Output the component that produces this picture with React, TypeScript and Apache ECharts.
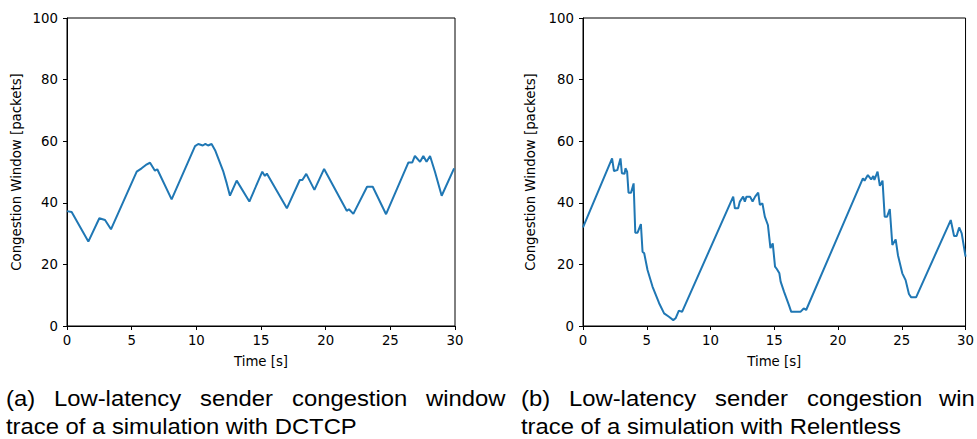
import React, { useEffect, useRef } from "react";
import * as echarts from "echarts";

const xTicks = [0, 5, 10, 15, 20, 25, 30];
const yTicks = [0, 20, 40, 60, 80, 100];

const dctcpTime = [0, 0.36, 1.65, 2.5, 2.94, 3.4, 5.39, 5.77, 6.1, 6.42, 6.8, 6.98, 8.09, 9.9, 10.15, 10.5, 10.7, 10.9, 11.18, 11.45, 12.09, 12.35, 12.6, 13.12, 14.1, 15.1, 15.3, 15.45, 17.0, 18.0, 18.2, 18.5, 19.13, 19.88, 21.63, 21.8, 22.14, 23.2, 23.64, 24.67, 26.4, 26.7, 26.9, 27.3, 27.55, 27.8, 28.07, 28.45, 28.97, 29.93];
const dctcpCwnd = [37.3, 37, 27.4, 35, 34.4, 31.4, 50.1, 51.2, 52.3, 53, 50.4, 50.9, 41.1, 58.4, 59.1, 58.6, 59.1, 58.6, 59.1, 57.1, 50.1, 46.3, 42.3, 47.2, 40.4, 50.1, 48.7, 49.5, 38.2, 47.4, 47.4, 49.4, 44.2, 51, 37.4, 37.9, 36.4, 45.2, 45.2, 36.3, 53.1, 53.1, 55.2, 53.3, 55.2, 53.3, 55.2, 50.1, 42.3, 51.2];

const relTime = [0, 2.28, 2.43, 2.69, 2.94, 3.05, 3.26, 3.33, 3.46, 3.57, 3.77, 3.97, 4.1, 4.28, 4.54, 4.67, 4.8, 5.06, 5.45, 5.97, 6.36, 6.74, 7.08, 7.26, 7.52, 7.77, 11.78, 11.91, 12.17, 12.3, 12.56, 12.69, 12.82, 13.1, 13.3, 13.5, 13.74, 13.87, 14.07, 14.26, 14.5, 14.7, 14.88, 15.06, 15.2, 15.4, 15.5, 15.77, 16.15, 16.33, 17.05, 17.31, 17.5, 21.95, 22.08, 22.34, 22.6, 22.77, 22.85, 23.1, 23.28, 23.49, 23.66, 23.85, 24.06, 24.26, 24.52, 24.7, 25.04, 25.3, 25.56, 25.74, 26.12, 28.84, 29.1, 29.3, 29.5, 29.7, 30];
const relCwnd = [32, 54.4, 50.3, 50.6, 54.4, 49.6, 49.4, 51.2, 50.1, 43.3, 43.3, 46.3, 30.3, 30.3, 33.1, 24.1, 23.6, 18.2, 12.8, 7.4, 4.1, 3.0, 1.9, 2.5, 5, 4.6, 42, 38.2, 38.2, 40.4, 42, 40.4, 42, 42, 40.4, 42, 43.3, 39.3, 39.8, 35.5, 32.8, 25.3, 26.8, 19.3, 18.5, 17.1, 14.4, 11.1, 6.8, 4.6, 4.6, 5.7, 5.2, 47.9, 47.2, 49, 47.6, 48.7, 47.4, 50.1, 45.5, 47.2, 35.5, 35.5, 38, 26.3, 28.1, 23, 17.1, 14.9, 10.4, 9.3, 9.3, 34.4, 29.2, 29.2, 32, 30.1, 22.5];

const xAxisTitle = "Time [s]";
const yAxisTitle = "Congestion Window [packets]";
const captionA1 = ["(a)", "Low-latency", "sender", "congestion", "window"];
const captionA2 = "trace of a simulation with DCTCP";
const captionB1 = ["(b)", "Low-latency", "sender", "congestion", "win"];
const captionB2 = "trace of a simulation with Relentless";

const captionAX = [6, 54, 200, 292, 426];
const captionBX = [521, 569, 715, 807, 939];

const zip = (t: number[], v: number[]) => t.map((x, i) => [x, v[i]]);

const TICK_FONT = "DejaVu Sans";
const CAP_FONT = "Liberation Sans";
const BLUE = "#1f77b4";

function makeXAxis(gridIndex: number) {
  return {
    type: "value",
    gridIndex,
    min: 0,
    max: 30,
    interval: 5,
    name: xAxisTitle,
    nameLocation: "middle",
    nameGap: 29,
    nameTextStyle: { fontFamily: TICK_FONT, fontSize: 13.3, color: "#000", verticalAlign: "top" },
    axisLine: { show: true, lineStyle: { color: "#000", width: 1 } },
    axisTick: { show: true, inside: false, length: 4, lineStyle: { color: "#000" } },
    axisLabel: {
      fontFamily: TICK_FONT,
      fontSize: 13.3,
      color: "#000",
      margin: 8,
      customValues: xTicks,
      formatter: (v: number) => String(v),
    },
    splitLine: { show: false },
  };
}

function makeYAxis(gridIndex: number, nameGap: number) {
  return {
    type: "value",
    gridIndex,
    min: 0,
    max: 100,
    interval: 20,
    name: yAxisTitle,
    nameLocation: "middle",
    nameGap,
    nameTextStyle: { fontFamily: TICK_FONT, fontSize: 13.3, color: "#000" },
    axisLine: { show: true, lineStyle: { color: "#000", width: 1 } },
    axisTick: { show: true, inside: false, length: 4, lineStyle: { color: "#000" } },
    axisLabel: {
      fontFamily: TICK_FONT,
      fontSize: 13.3,
      color: "#000",
      margin: 9,
      customValues: yTicks,
      formatter: (v: number) => String(v),
    },
    splitLine: { show: false },
  };
}

function captionTexts(words: string[], xs: number[], line2: string, x2: number) {
  const scale = 1.083;
  const els: any[] = words.map((w, i) => ({
    type: "text",
    x: xs[i],
    y: 398,
    scaleX: scale,
    style: {
      text: w,
      x: 0,
      y: 0,
      fill: "#000",
      font: `22px "${CAP_FONT}"`,
      verticalAlign: "middle",
      align: "left",
    },
  }));
  els.push({
    type: "text",
    x: x2,
    y: 426,
    scaleX: scale,
    style: {
      text: line2,
      x: 0,
      y: 0,
      fill: "#000",
      font: `22px "${CAP_FONT}"`,
      verticalAlign: "middle",
      align: "left",
    },
  });
  return els;
}

export default function App() {
  const ref = useRef<HTMLDivElement>(null);
  useEffect(() => {
    if (!ref.current) return;
    const chart = echarts.init(ref.current, null, { renderer: "svg" });
    const option: any = {
      animation: false,
      backgroundColor: "#fff",
      grid: [
        { left: 67, top: 18, width: 388, height: 308, show: true, borderColor: "#000", borderWidth: 1, backgroundColor: "transparent" },
        { left: 583, top: 18, width: 387, height: 308, show: true, borderColor: "#000", borderWidth: 1, backgroundColor: "transparent" },
      ],
      xAxis: [makeXAxis(0), makeXAxis(1)],
      yAxis: [makeYAxis(0, 44), makeYAxis(1, 46)],
      series: [
        {
          type: "line",
          xAxisIndex: 0,
          yAxisIndex: 0,
          data: zip(dctcpTime, dctcpCwnd),
          showSymbol: false,
          lineStyle: { color: BLUE, width: 2 },
          itemStyle: { color: BLUE },
        },
        {
          type: "line",
          xAxisIndex: 1,
          yAxisIndex: 1,
          data: zip(relTime, relCwnd),
          showSymbol: false,
          lineStyle: { color: BLUE, width: 2 },
          itemStyle: { color: BLUE },
        },
      ],
      graphic: [
        ...captionTexts(captionA1, captionAX, captionA2, 6),
        ...captionTexts(captionB1, captionBX, captionB2, 521),
      ],
    };
    chart.setOption(option);
    return () => chart.dispose();
  }, []);
  return (
    <div
      ref={ref}
      style={{ position: "fixed", left: 0, top: 0, width: 977, height: 439, background: "#fff" }}
    />
  );
}
